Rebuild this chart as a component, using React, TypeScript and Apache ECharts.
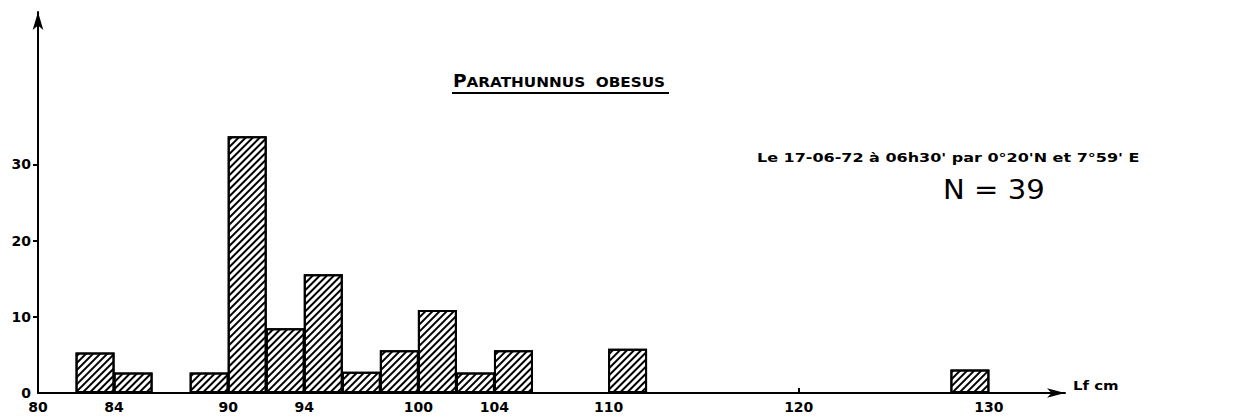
import React, { useEffect, useRef } from "react";
import * as echarts from "echarts";

const binStart = [82, 84, 88, 90, 92, 94, 96, 98, 100, 102, 104, 110, 128];
const binWidth = 2;
const percents = [5.3, 2.7, 2.7, 33.7, 8.5, 15.6, 2.8, 5.6, 10.9, 2.7, 5.6, 5.8, 3.1];
const xTickLabels = [80, 84, 90, 94, 100, 104, 110, 120, 130];
const xTicks = [120];
const yTickLabels = [0, 10, 20, 30];
const yTicks = [10, 20, 30];
const noteText = "Le 17-06-72 à 06h30' par 0°20'N et 7°59' E";
const countText = "N = 39";
const unitText = "Lf cm";

const FONT = "DejaVu Sans";

export default function App() {
  const ref = useRef<HTMLDivElement>(null);
  useEffect(() => {
    if (!ref.current) return;
    const chart = echarts.init(ref.current, undefined, { renderer: "svg" });
    const data = binStart.map((s, i) => [s + binWidth / 2, percents[i]]);
    chart.setOption({
      animation: false,
      backgroundColor: "#fff",
      grid: { left: 38, top: 12, right: 172, bottom: 25 },
      xAxis: {
        type: "value",
        min: 80,
        max: 134,
        splitLine: { show: false },
        axisLine: {
          show: true,
          lineStyle: { color: "#000", width: 2 },
          symbol: ["none", "arrow"],
          symbolSize: [7, 18],
        },
        axisTick: { show: true, inside: true, length: 5, customValues: xTicks, lineStyle: { color: "#000", width: 2 } },
        axisLabel: {
          customValues: xTickLabels,
          color: "#000",
          fontFamily: FONT,
          fontWeight: "bold",
          fontSize: 14,
          margin: 7,
        },
      },
      yAxis: {
        type: "value",
        min: 0,
        max: 50,
        splitLine: { show: false },
        axisLine: {
          show: true,
          lineStyle: { color: "#000", width: 2 },
          symbol: ["none", "arrow"],
          symbolSize: [8, 18],
        },
        axisTick: { show: true, length: 5, customValues: yTicks, lineStyle: { color: "#000", width: 2 } },
        axisLabel: {
          customValues: yTickLabels,
          color: "#000",
          fontFamily: FONT,
          fontWeight: "bold",
          fontSize: 14,
          margin: 7,
        },
      },
      series: [
        {
          type: "bar",
          data,
          barWidth: 39,
          itemStyle: {
            color: "#fff",
            borderColor: "#000",
            borderWidth: 2,
            decal: {
              symbol: "rect",
              symbolSize: 1,
              dashArrayX: [1, 0],
              dashArrayY: [1.6, 2.2],
              rotation: -Math.PI / 4,
              color: "#000",
              backgroundColor: "#fff",
            },
          },
        },
      ],
      graphic: [
        {
          type: "text",
          x: 453,
          y: 72,
          scaleX: 1.09,
          style: {
            text: "{b|P}{s|ARATHUNNUS  OBESUS}",
            rich: {
              b: { fontSize: 17, fontFamily: FONT, fontWeight: "bold", fill: "#000", verticalAlign: "bottom" },
              s: { fontSize: 14, fontFamily: FONT, fontWeight: "bold", fill: "#000", verticalAlign: "bottom" },
            },
          },
        },
        {
          type: "line",
          shape: { x1: 452, y1: 93, x2: 669, y2: 93 },
          style: { stroke: "#000", lineWidth: 2 },
        },
        {
          type: "text",
          x: 757,
          y: 151,
          scaleX: 1.23,
          style: { text: noteText, fontSize: 13, fontFamily: FONT, fontWeight: "bold", fill: "#000" },
        },
        {
          type: "text",
          x: 943,
          y: 177,
          scaleX: 1.12,
          style: { text: countText, fontSize: 26, fontFamily: FONT, fill: "#000" },
        },
        {
          type: "text",
          x: 1073,
          y: 379,
          scaleX: 1.15,
          style: { text: unitText, fontSize: 13, fontFamily: FONT, fontWeight: "bold", fill: "#000" },
        },
      ],
    });
    return () => chart.dispose();
  }, []);
  return (
    <div
      ref={ref}
      style={{ position: "fixed", left: 0, top: 0, width: 1237, height: 418 }}
    />
  );
}
